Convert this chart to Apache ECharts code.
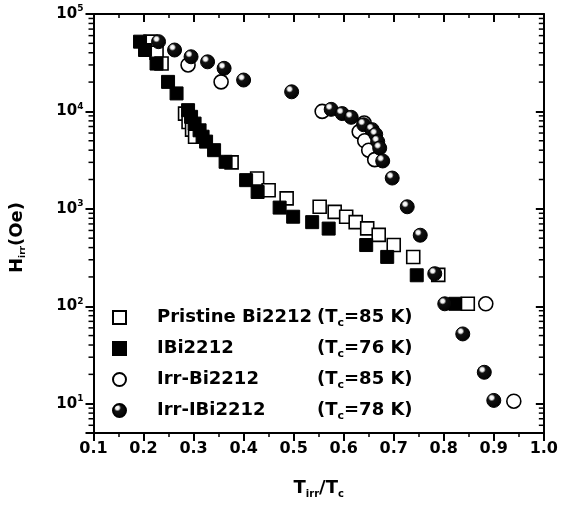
<!DOCTYPE html>
<html><head><meta charset="utf-8">
<script src="https://cdn.jsdelivr.net/npm/echarts@6/dist/echarts.min.js"></script>
<style>html,body{margin:0;padding:0;background:#fff}#c{width:561px;height:512px}</style>
</head><body><div id="c"></div>
<script>
// ---- data ----
const seriesNames = ['Pristine Bi2212', 'IBi2212', 'Irr-Bi2212', 'Irr-IBi2212'];
const tcValues = [85, 76, 85, 78];

const pristine = [
  [0.214, 52000], [0.226, 40000], [0.236, 31000], [0.283, 9500], [0.290, 7800],
  [0.297, 6500], [0.303, 5500], [0.376, 3000], [0.427, 2050], [0.450, 1550],
  [0.486, 1280], [0.552, 1050], [0.582, 930], [0.605, 830], [0.624, 730],
  [0.647, 630], [0.670, 540], [0.700, 425], [0.739, 320], [0.789, 210], [0.848, 106]
];
const ibi = [
  [0.193, 52000], [0.203, 42700], [0.226, 31000], [0.249, 20100], [0.266, 15300],
  [0.289, 10300], [0.295, 8800], [0.302, 7500], [0.312, 6400], [0.318, 5500],
  [0.325, 4900], [0.341, 4000], [0.364, 3040], [0.405, 1970], [0.428, 1490],
  [0.472, 1030], [0.499, 830], [0.537, 730], [0.570, 627], [0.645, 425],
  [0.687, 321], [0.746, 208], [0.823, 106]
];
const irr = [
  [0.289, 30000], [0.355, 20100], [0.557, 10000], [0.641, 7600], [0.631, 6200],
  [0.642, 5000], [0.650, 4000], [0.662, 3200], [0.884, 106], [0.940, 10.6]
];
const irrIbi = [
  [0.230, 52000], [0.262, 42700], [0.295, 36400], [0.328, 32300], [0.361, 27700],
  [0.400, 21000], [0.496, 15900], [0.575, 10500], [0.597, 9500], [0.615, 8700],
  [0.640, 7300], [0.657, 6500], [0.664, 5800], [0.668, 4900], [0.672, 4200],
  [0.678, 3100], [0.697, 2070], [0.727, 1050], [0.753, 536], [0.782, 216],
  [0.802, 106], [0.838, 52], [0.881, 21], [0.900, 10.8]
];
const xTickLabels = ['0.1','0.2','0.3','0.4','0.5','0.6','0.7','0.8','0.9','1.0'];
const yMinorTicks = [6,7,8,9,20,30,40,50,60,70,80,90,200,300,400,500,600,700,800,900,
  2000,3000,4000,5000,6000,7000,8000,9000,20000,30000,40000,50000,60000,70000,80000,90000];

// ---- chart ----
const FONT = 'DejaVu Sans';
const chart = echarts.init(document.getElementById('c'), null, {renderer: 'canvas'});
const sphere = {
  type: 'radial', x: 0.36, y: 0.32, r: 0.75,
  colorStops: [
    {offset: 0, color: '#ffffff'}, {offset: 0.16, color: '#eeeeee'},
    {offset: 0.32, color: '#111111'}, {offset: 1, color: '#000000'}
  ]
};
const axisLine = {lineStyle: {color: '#000', width: 2}};
const fmtX = v => {
  const i = Math.round((v - 0.1) / 0.1);
  return xTickLabels[i] !== undefined ? xTickLabels[i] : '';
};
const fmtY = v => {
  const e = Math.log10(v);
  const r = Math.round(e);
  if (Math.abs(e - r) > 1e-6) return '';
  return '{b|10}{s|' + r + '}';
};
const tcOf = name => tcValues[seriesNames.indexOf(name)];

const option = {
  animation: false,
  backgroundColor: '#fff',
  textStyle: {fontFamily: FONT},
  grid: {left: 91, right: 14, top: 14, bottom: 79, containLabel: false},
  xAxis: [{
    type: 'value', min: 0.1, max: 1.0, interval: 0.1, position: 'bottom',
    axisLine: axisLine,
    axisTick: {show: true, inside: false, length: 8, lineStyle: {width: 2, color: '#000'}},
    minorTick: {show: true, splitNumber: 2, length: 4, lineStyle: {width: 1.5, color: '#000'}},
    splitLine: {show: false},
    axisLabel: {formatter: fmtX, color: '#000', fontFamily: FONT, fontWeight: 'bold', fontSize: 16, margin: 8},
    name: '{a|T}{s|irr}{a|/T}{s|c}', nameLocation: 'middle', nameGap: 44,
    nameTextStyle: {rich: {
      a: {fontFamily: FONT, fontWeight: 'bold', fontSize: 18, color: '#000'},
      s: {fontFamily: FONT, fontWeight: 'bold', fontSize: 10, color: '#000', padding: [12, 0, 0, 0]}
    }}
  }, {
    type: 'value', min: 0.1, max: 1.0, interval: 0.1, position: 'top',
    axisLine: axisLine,
    axisTick: {show: true, inside: true, length: 8, lineStyle: {width: 2, color: '#000'}},
    minorTick: {show: true, splitNumber: 2, length: 4, lineStyle: {width: 1.5, color: '#000'}},
    splitLine: {show: false}, axisLabel: {show: false}
  }],
  yAxis: [{
    type: 'log', logBase: 10, min: 5, max: 100000, splitNumber: 4, position: 'left',
    axisLine: axisLine,
    axisTick: {show: true, inside: false, length: 8, lineStyle: {width: 2, color: '#000'}},
    splitLine: {show: false},
    axisLabel: {formatter: fmtY, margin: 10, color: '#000', rich: {
      b: {fontFamily: FONT, fontWeight: 'bold', fontSize: 15, color: '#000'},
      s: {fontFamily: FONT, fontWeight: 'bold', fontSize: 9, color: '#000', padding: [0, 0, 10, 0]}
    }},
    name: '{a|H}{s|irr}{a|(Oe)}', nameLocation: 'middle', nameGap: 66,
    nameTextStyle: {padding: [0, 28, 0, 0], rich: {
      a: {fontFamily: FONT, fontWeight: 'bold', fontSize: 18, color: '#000'},
      s: {fontFamily: FONT, fontWeight: 'bold', fontSize: 9, color: '#000', padding: [12, 0, 0, 0]}
    }}
  }, {
    type: 'log', logBase: 10, min: 5, max: 100000, splitNumber: 4, position: 'right',
    axisLine: axisLine,
    axisTick: {show: true, inside: true, length: 8, lineStyle: {width: 2, color: '#000'}},
    splitLine: {show: false}, axisLabel: {show: false}
  }],
  legend: {
    data: seriesNames, orient: 'vertical', left: 112, top: 306, padding: 0,
    itemWidth: 13, itemHeight: 13, itemGap: 8,
    formatter: name => '{n|' + name + '}{t|(T}{c|c}{t|=' + tcOf(name) + ' K)}',
    textStyle: {rich: {
      n: {fontFamily: FONT, fontWeight: 'bold', fontSize: 18, color: '#000', width: 160, padding: [0, 0, 0, 26], lineHeight: 20},
      t: {fontFamily: FONT, fontWeight: 'bold', fontSize: 18, color: '#000', lineHeight: 20},
      c: {fontFamily: FONT, fontWeight: 'bold', fontSize: 11, color: '#000', padding: [12, 0, 0, 0], lineHeight: 20}
    }}
  },
  series: [
    {name: seriesNames[0], type: 'scatter', data: pristine, symbol: 'rect', symbolSize: 13,
     itemStyle: {color: '#fff', borderColor: '#000', borderWidth: 1.6, opacity: 1}},
    {name: seriesNames[1], type: 'scatter', data: ibi, symbol: 'rect', symbolSize: 13,
     itemStyle: {color: '#000', borderColor: '#000', borderWidth: 1, opacity: 1}},
    {name: seriesNames[2], type: 'scatter', data: irr, symbol: 'circle', symbolSize: 14,
     itemStyle: {color: '#fff', borderColor: '#000', borderWidth: 1.6, opacity: 1}},
    {name: seriesNames[3], type: 'scatter', data: irrIbi, symbol: 'circle', symbolSize: 14,
     itemStyle: {color: sphere, borderColor: '#000', borderWidth: 1, opacity: 1}},
    {name: 'minor', type: 'custom', silent: true, clip: false, z: 5,
     data: yMinorTicks.map(v => [0.1, v]),
     renderItem: (params, api) => {
       const v = api.value(1);
       const pl = api.coord([0.1, v]);
       const pr = api.coord([1.0, v]);
       return {type: 'group', children: [
         {type: 'line', shape: {x1: pl[0] - 5, y1: pl[1], x2: pl[0], y2: pl[1]}, style: {stroke: '#000', lineWidth: 1.5}},
         {type: 'line', shape: {x1: pr[0], y1: pr[1], x2: pr[0] - 5, y2: pr[1]}, style: {stroke: '#000', lineWidth: 1.5}}
       ]};
     }}
  ]
};
chart.setOption(option);
</script>
</body></html>
